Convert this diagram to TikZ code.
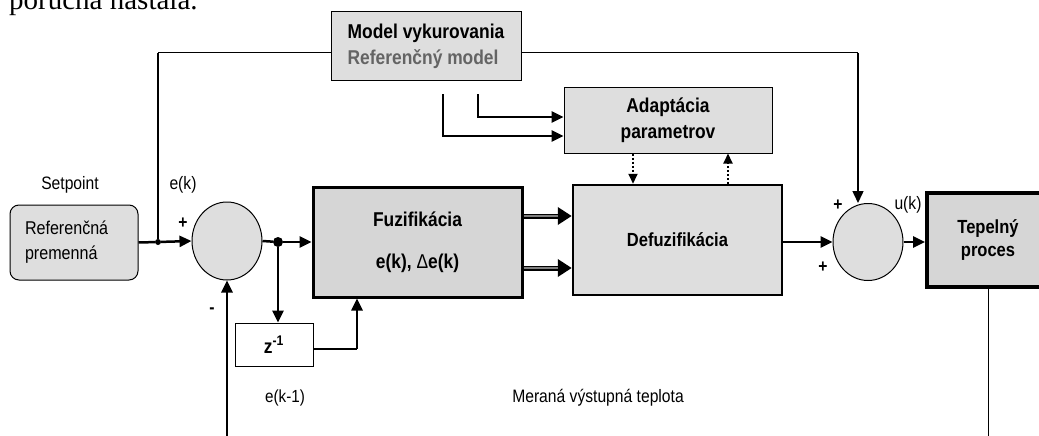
\documentclass[tikz,border=0pt]{standalone}
\usepackage{fontspec}
\setmainfont{Liberation Sans}[FakeStretch=0.87]
\newfontfamily\pageserif{Liberation Serif}
\usetikzlibrary{arrows.meta,shapes.geometric,calc}
\definecolor{boxgray}{RGB}{222,222,222}
\definecolor{fuzgray}{RGB}{214,214,214}
\definecolor{txtgray}{RGB}{100,100,100}
\begin{document}
\begin{tikzpicture}[x=1pt,y=-1pt,
  box/.style={draw, fill=boxgray, inner sep=0pt, align=center},
  bigtxt/.style={font=\fontsize{20}{26}\selectfont\bfseries},
  midtxt/.style={font=\fontsize{19}{23}\selectfont\bfseries},
  lbl/.style={font=\fontsize{18}{20}\selectfont, inner sep=0pt},
  pm/.style={font=\fontsize{18}{20}\selectfont\bfseries, inner sep=0pt},
  sig/.style={line width=2.5pt, -{Triangle[length=12pt,width=11pt]}},
  sigline/.style={line width=2.5pt},
  thin/.style={line width=1pt},
  dotarrow/.style={line width=2pt, dotted, -{Triangle[length=10pt,width=9pt]}},
  sumnode/.style={draw, fill=boxgray, ellipse, line width=1pt, inner sep=0pt},
  dot/.style={circle, fill=black, inner sep=0pt}
]
\useasboundingbox (0,0) rectangle (1039,436);

% page text cut off at the top
\node[anchor=base west, inner sep=0pt, font=\pageserif\fontsize{29}{32}\selectfont] (pagetxt) at (9,10) {porucha nastala.};

% blocks
\node[box, line width=1pt, minimum width=190pt, minimum height=69pt, bigtxt, align=left] (model) at (426,46.5)
  {Model vykurovania\\\textcolor{txtgray}{Referenčný model}};
\node[box, line width=1pt, minimum width=208pt, minimum height=65pt, bigtxt] (adapt) at (668,120.5)
  {Adaptácia\\parametrov};
\node[box, fill=fuzgray, line width=3pt, minimum width=209pt, minimum height=110pt, font=\fontsize{20}{42}\selectfont\bfseries] (fuz) at (417.5,242)
  {Fuzifikácia\\e(k), {\mdseries Δ}e(k)};
\node[box, line width=2.5pt, minimum width=209pt, minimum height=110pt, midtxt] (defuz) at (677.5,240)
  {Defuzifikácia};
\node[box, fill=fuzgray, line width=4pt, minimum width=122pt, minimum height=94pt, midtxt] (tep) at (988,240)
  {Tepelný\\proces};
\node[box, rounded corners=9pt, line width=1pt, minimum width=128pt, minimum height=75pt, inner xsep=15pt, text width=98pt, align=left, font=\fontsize{18.5}{25}\selectfont] (ref) at (74,242.5)
  {Referenčná\\premenná};
\node[draw, fill=white, line width=1pt, minimum width=78pt, minimum height=43pt, inner sep=0pt, font=\fontsize{20}{22}\selectfont\bfseries] (z) at (274,344.5)
  {z\textsuperscript{-1}};
\node[sumnode, minimum width=70pt, minimum height=78pt] (sum1) at (227,241) {};
\node[sumnode, minimum width=70pt, minimum height=77pt] (sum2) at (868,242) {};

% junctions and corner points
\node[dot, minimum size=6pt] (j1) at (158,242) {};
\node[dot, minimum size=10pt] (j2) at (278,242) {};
\coordinate (tl) at (158,53);
\coordinate (tr) at (858,53);
\coordinate (a1s) at (478,94);
\coordinate (a1c) at (478,117);
\coordinate (a2s) at (443,94);
\coordinate (a2c) at (443,136);
\coordinate (dx1) at (633,0);
\coordinate (dx2) at (728,0);
\coordinate (zc) at (357,349);
\coordinate (fb) at (227,440);
\coordinate (out) at (988,440);

% labels
\node[lbl] (setp) at (70,185) {Setpoint};
\node[lbl] (ek) at (183,185) {e(k)};
\node[pm] (plus1) at (183,223) {+};
\node[pm] (minus1) at (212,311) {-};
\node[lbl, font=\fontsize{17.5}{20}\selectfont] (ek1) at (285,398) {e(k-1)};
\node[lbl, font=\fontsize{18}{20}\selectfont] (meas) at (598,398) {Meraná výstupná teplota};
\node[pm] (plus2) at (838,205) {+};
\node[pm] (plus3) at (823,267) {+};
\node[lbl] (uk) at (908,205) {u(k)};

% connectors
\draw[sigline] (ref.east) -- (j1);
\draw[sig] (j1) -- (sum1.west);
\draw[line width=2pt] (j1) -- (tl);
\draw[thin] (tl) -- (tl -| model.west);
\draw[thin] (tl -| model.east) -- (tr);
\draw[line width=1.5pt, -{Triangle[length=12pt,width=11pt]}] (tr) -- (tr |- sum2.north);
\draw[line width=2.5pt, -{Triangle[length=12pt,width=11pt]}] (a1s) -- (a1c) -- (a1c -| adapt.west);
\draw[line width=2.5pt, -{Triangle[length=12pt,width=11pt]}] (a2s) -- (a2c) -- (a2c -| adapt.west);
\draw[dotarrow] (adapt.south -| dx1) -- (defuz.north -| dx1);
\draw[dotarrow] (defuz.north -| dx2) -- (adapt.south -| dx2);
% double arrows
\draw[line width=5pt, -{Triangle[length=14pt,width=17pt]}] ([yshift=26pt]fuz.east) -- ([yshift=26pt]fuz.east -| defuz.west);
\draw[gray, line width=1.2pt, shorten >=14pt] ([yshift=26pt]fuz.east) -- ([yshift=26pt]fuz.east -| defuz.west);
\draw[line width=5pt, -{Triangle[length=14pt,width=17pt]}] ([yshift=-26pt]fuz.east) -- ([yshift=-26pt]fuz.east -| defuz.west);
\draw[gray, line width=1.2pt, shorten >=14pt] ([yshift=-26pt]fuz.east) -- ([yshift=-26pt]fuz.east -| defuz.west);
\draw[sig] (defuz.east |- sum2.west) -- (sum2.west);
\draw[sig] (sum2.east) -- (sum2.east -| tep.west);
\draw[thin] (tep.south) -- (out);
\draw[sigline] (sum1.east) -- (j2);
\draw[sig] (j2) -- (fuz.west |- j2);
\draw[sig] (j2) -- (j2 |- z.north);
\draw[line width=2pt] (z.east |- zc) -- (zc);
\draw[sig] (zc) -- (zc |- fuz.south);
\draw[sig] (fb) -- (sum1.south);
\end{tikzpicture}
\end{document}
